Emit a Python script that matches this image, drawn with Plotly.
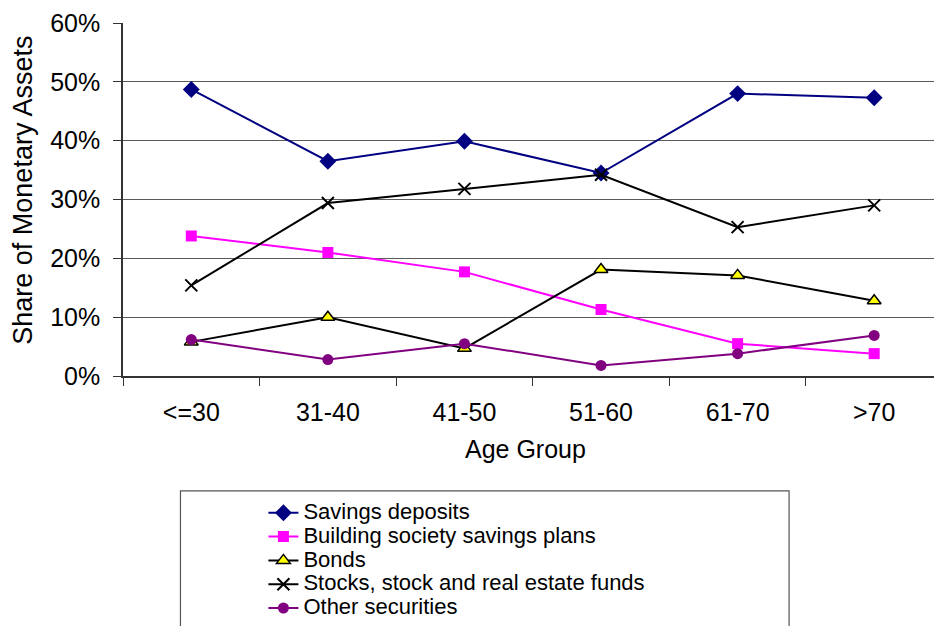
import plotly.graph_objects as go

age_groups = ["<=30", "31-40", "41-50", "51-60", "61-70", ">70"]
savings_deposits = [0.487, 0.365, 0.399, 0.345, 0.480, 0.473]
building_society = [0.238, 0.210, 0.177, 0.113, 0.055, 0.038]
bonds = [0.058, 0.100, 0.047, 0.181, 0.171, 0.128]
stocks_funds = [0.154, 0.294, 0.318, 0.342, 0.253, 0.290]
other_securities = [0.062, 0.028, 0.055, 0.018, 0.038, 0.069]

FONT = "Liberation Sans, Arial, sans-serif"
LEG_TXT = "<span style='font-size:22px'>{}</span>"

fig = go.Figure()

def add(name, vals, line_color, symbol, size, mcolor, mline_color=None, mline_w=0):
    fig.add_trace(go.Scatter(
        x=age_groups, y=vals, mode="lines+markers", name=LEG_TXT.format(name),
        line=dict(color=line_color, width=2),
        marker=dict(symbol=symbol, size=size, color=mcolor,
                    line=dict(color=mline_color or mcolor, width=mline_w)),
    ))

add("Savings deposits", savings_deposits, "#000080", "diamond", 13, "#000080")
add("Building society savings plans", building_society, "#FF00FF", "square", 11, "#FF00FF")
add("Bonds", bonds, "#000000", "triangle-up", 12, "#FFFF00", "#000000", 1.5)
add("Stocks, stock and real estate funds", stocks_funds, "#000000", "x-thin", 12, "#000000", "#000000", 2)
add("Other securities", other_securities, "#800080", "circle", 11, "#800080")

L, T, B = 122.5, 22.7, 250
W, H = 934, 626
pw = W - L

fig.update_layout(
    width=W, height=H,
    margin=dict(l=L, r=0, t=T, b=B, pad=0),
    paper_bgcolor="white", plot_bgcolor="white",
    font=dict(family=FONT, size=25, color="#000000"),
    showlegend=True,
    legend=dict(
        x=(263 - L) / pw, xanchor="left",
        y=(H - B - 496) / (H - B - T), yanchor="top",
        font=dict(family=FONT, size=16, color="#000000"),
        bgcolor="rgba(0,0,0,0)", borderwidth=0,
        tracegroupgap=0,
    ),
    shapes=[dict(
        type="rect", xref="paper", yref="paper",
        x0=(180 - L) / pw, x1=(789 - L) / pw,
        y0=(H - B - 650) / (H - B - T), y1=(H - B - 491) / (H - B - T),
        line=dict(color="#555555", width=1.2), fillcolor="rgba(0,0,0,0)", layer="below",
    )],
    annotations=[
        dict(text="Age Group", xref="paper", yref="paper",
             x=(525 - L) / pw, y=(H - B - 449) / (H - B - T),
             xanchor="center", yanchor="middle", showarrow=False,
             font=dict(family=FONT, size=25)),
        dict(text="Share of Monetary Assets", xref="paper", yref="paper",
             x=(23 - L) / pw, y=(H - B - 190) / (H - B - T),
             xanchor="center", yanchor="middle", showarrow=False, textangle=-90,
             font=dict(family=FONT, size=27)),
    ],
)

fig.update_xaxes(
    type="category", range=[-0.5, 5.5 - (942.5 - 934) / 137],
    tickson="boundaries", ticks="outside", ticklen=8, tickcolor="#333333",
    showline=True, linecolor="#333333", linewidth=1.5,
    showgrid=False, zeroline=False,
    tickfont=dict(family=FONT, size=25), ticklabelstandoff=13,
)
fig.update_yaxes(
    range=[0, 0.6], tickvals=[0, 0.1, 0.2, 0.3, 0.4, 0.5, 0.6],
    tickformat=".0%", ticks="outside", ticklen=8, tickcolor="#333333",
    showline=True, linecolor="#333333", linewidth=1.5,
    showgrid=True, gridcolor="#5a5a5a", gridwidth=1,
    zeroline=False,
    tickfont=dict(family=FONT, size=25), ticklabelstandoff=8,
)

fig.write_html("out.html")
